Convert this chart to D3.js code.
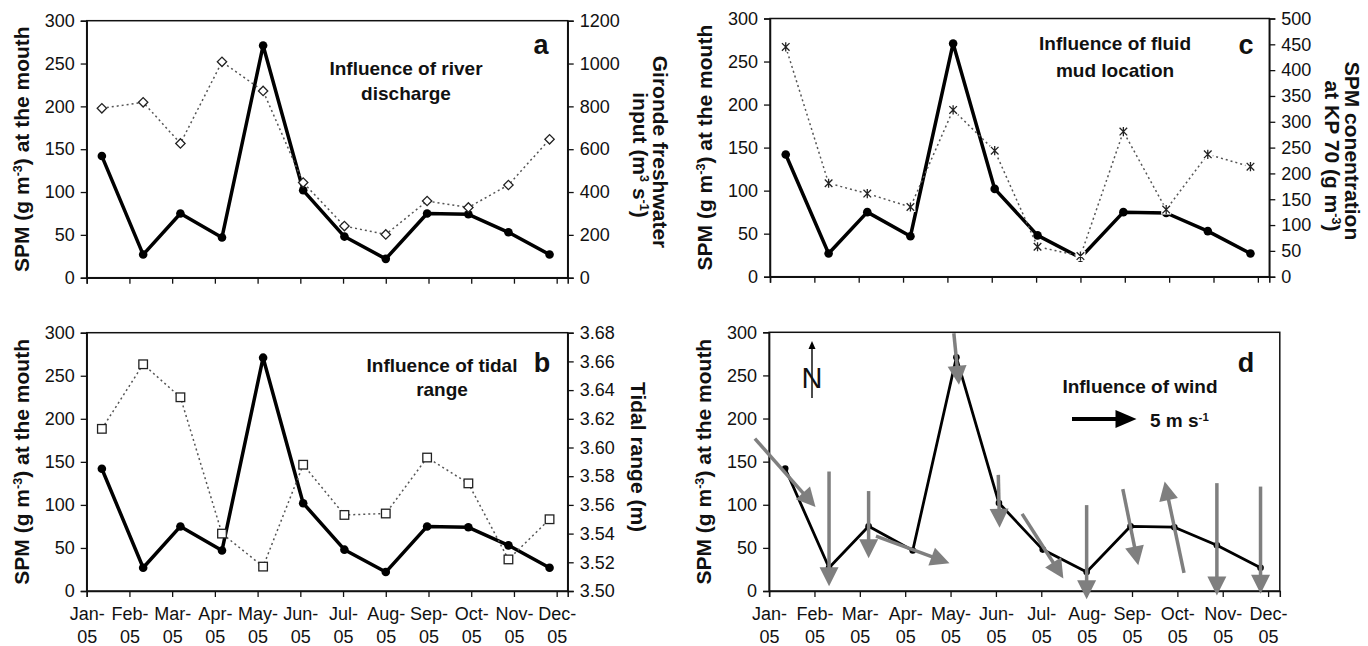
<!DOCTYPE html>
<html>
<head>
<meta charset="utf-8">
<script src="https://cdn.jsdelivr.net/npm/d3@7"></script>
<style>
  body { margin: 0; background: #fff; }
  svg { display: block; }
</style>
</head>
<body>
<svg id="chart" width="1368" height="646"></svg>
<script>
// ---- data ----
const monthLabels = ["Jan-", "Feb-", "Mar-", "Apr-", "May-", "Jun-", "Jul-", "Aug-", "Sep-", "Oct-", "Nov-", "Dec-"];
const yearLabel = "05";
const axisEnd = "2005-12-09";
const sampleDates = [
  "2005-01-12", "2005-02-10", "2005-03-07", "2005-04-06", "2005-05-05", "2005-06-03",
  "2005-07-02", "2005-08-01", "2005-08-31", "2005-09-29", "2005-10-28", "2005-11-26",
];
const spm = [142, 27, 75, 47, 271, 102, 48, 22, 75, 74, 53, 27];
const freshwater = [791, 819, 627, 1008, 872, 444, 241, 202, 358, 328, 433, 646];
const tidalRange = [3.613, 3.658, 3.635, 3.54, 3.517, 3.588, 3.553, 3.554, 3.593, 3.575, 3.522, 3.55];
const spmKP70 = [445, 181, 161, 135, 323, 244, 58, 40, 281, 130, 237, 213];
// wind vectors (m/s, u east, v north) and the SPM level each arrow is centred on
const windU = [4.7, 0, 0, 5.7, 0.4, 0.1, 3.2, 0, 1.2, -1.5, 0, 0];
const windV = [-5.3, -8.9, -5.2, -2.1, -4.0, -4.1, -5.0, -7.3, -5.9, 7.1, -8.7, -8.3];
const windAt = [137, 72, 77, 48, 269, 104, 52, 45, 74, 74, 60, 59];

const spmTicks = [0, 50, 100, 150, 200, 250, 300];
const freshTicks = [0, 200, 400, 600, 800, 1000, 1200];
const tidalTicks = [3.5, 3.52, 3.54, 3.56, 3.58, 3.6, 3.62, 3.64, 3.66, 3.68];
const kpTicks = [0, 50, 100, 150, 200, 250, 300, 350, 400, 450, 500];

// ---- layout ----
const FONT = "'Liberation Sans', Arial, Helvetica, sans-serif";
const INK = "#111";
const boxes = {
  a: { x0: 86.7, x1: 567.7, y0: 20.7, y1: 277.7 },
  b: { x0: 86.7, x1: 567.7, y0: 332.7, y1: 591 },
  c: { x0: 770, x1: 1269.3, y0: 18.5, y1: 276.7 },
  d: { x0: 769.1, x1: 1279.8, y0: 332.3, y1: 591 },
};

const svg = d3.select("#chart").attr("font-family", FONT);
const parse = d3.timeParse("%Y-%m-%d");
const monthPos = (s) => {
  const t = parse(s);
  const m0 = d3.timeMonth.floor(t);
  const m1 = d3.timeMonth.offset(m0, 1);
  return t.getMonth() + (t - m0) / (m1 - m0);
};
const xPos = sampleDates.map(monthPos);
const xMax = monthPos(axisEnd);

function styleAxis(sel) {
  sel.attr("font-family", FONT).attr("font-size", 18);
  sel.select(".domain").attr("stroke", INK).attr("stroke-width", 1.5);
  sel.selectAll(".tick line").attr("stroke", INK).attr("stroke-width", 1.3);
  sel.selectAll(".tick text").attr("fill", INK);
}

function rich(sel, parts) {
  parts.forEach(([t, sup]) => {
    const ts = sel.append("tspan").text(t);
    if (sup) ts.attr("baseline-shift", "super").style("font-size", "60%");
  });
  return sel;
}

function makePanel(box, withLabels) {
  const g = svg.append("g");
  const x = d3.scaleLinear().domain([0, xMax]).range([box.x0, box.x1]);
  const y = d3.scaleLinear().domain([0, 300]).range([box.y1, box.y0]);

  g.append("rect")
    .attr("x", box.x0)
    .attr("y", box.y0)
    .attr("width", box.x1 - box.x0)
    .attr("height", box.y1 - box.y0)
    .attr("fill", "none")
    .attr("stroke", INK)
    .attr("stroke-width", 1.5);

  g.append("g")
    .attr("transform", `translate(${box.x0},0)`)
    .call(d3.axisLeft(y).tickValues(spmTicks).tickSize(6).tickPadding(6).tickFormat(d3.format("d")))
    .call(styleAxis);

  const xAxis = g
    .append("g")
    .attr("transform", `translate(0,${box.y1})`)
    .call(
      d3
        .axisBottom(x)
        .tickValues(d3.range(12))
        .tickSize(6)
        .tickPadding(10)
        .tickFormat((i) => (withLabels ? monthLabels[i] : "")),
    )
    .call(styleAxis);
  if (withLabels) {
    xAxis.selectAll(".tick text").append("tspan").attr("x", 0).attr("dy", "1.27em").text(yearLabel);
  }

  // left title
  const ty = (box.y0 + box.y1) / 2;
  rich(
    g
      .append("text")
      .attr("transform", `translate(${box.x0 - 65},${ty}) rotate(-90)`)
      .attr("text-anchor", "middle")
      .attr("dy", "0.35em")
      .attr("font-size", 21)
      .attr("font-weight", "bold")
      .attr("fill", INK),
    [["SPM (g m"], ["-3", true], [") at the mouth"]],
  );
  return { g, x, y, box };
}

function rightAxis(p, scale, ticks, fmt) {
  p.g.append("g")
    .attr("transform", `translate(${p.box.x1},0)`)
    .call(d3.axisRight(scale).tickValues(ticks).tickSize(6).tickPadding(6).tickFormat(fmt))
    .call(styleAxis);
}

function rightTitle(p, cx, cy, parts) {
  rich(
    p.g
      .append("text")
      .attr("transform", `translate(${cx},${cy}) rotate(90)`)
      .attr("text-anchor", "middle")
      .attr("dy", "0.35em")
      .attr("font-size", 21)
      .attr("font-weight", "bold")
      .attr("fill", INK),
    parts,
  );
}

function drawSpm(p, width, r) {
  const line = d3
    .line()
    .x((d, i) => p.x(xPos[i]))
    .y((d) => p.y(d));
  p.g.append("path")
    .datum(spm)
    .attr("d", line)
    .attr("fill", "none")
    .attr("stroke", "#000")
    .attr("stroke-width", width)
    .attr("stroke-linejoin", "round");
  p.g.append("g")
    .selectAll("circle")
    .data(spm)
    .join("circle")
    .attr("cx", (d, i) => p.x(xPos[i]))
    .attr("cy", (d) => p.y(d))
    .attr("r", r)
    .attr("fill", "#000");
}

function drawDotted(p, scale, values) {
  const line = d3
    .line()
    .x((d, i) => p.x(xPos[i]))
    .y((d) => scale(d));
  p.g.append("path")
    .datum(values)
    .attr("d", line)
    .attr("fill", "none")
    .attr("stroke", "#555")
    .attr("stroke-width", 1.5)
    .attr("stroke-dasharray", "2,3");
  return p.g
    .append("g")
    .selectAll("g")
    .data(values)
    .join("g")
    .attr("transform", (d, i) => `translate(${p.x(xPos[i])},${scale(d)})`);
}

function annotate(p, cx, lines, letter) {
  lines.forEach(([t, y]) => {
    p.g.append("text")
      .attr("x", cx)
      .attr("y", y)
      .attr("text-anchor", "middle")
      .attr("font-size", 19)
      .attr("font-weight", "bold")
      .attr("fill", INK)
      .text(t);
  });
  p.g.append("text")
    .attr("x", letter[1])
    .attr("y", letter[2])
    .attr("text-anchor", "middle")
    .attr("font-size", 27)
    .attr("font-weight", "bold")
    .attr("fill", INK)
    .text(letter[0]);
}

// ---- panel a: river discharge ----
const pa = makePanel(boxes.a, false);
const yFresh = d3.scaleLinear().domain([0, 1200]).range([boxes.a.y1, boxes.a.y0]);
rightAxis(pa, yFresh, freshTicks, d3.format("d"));
rightTitle(pa, 660, 152, [["Gironde freshwater"]]);
rightTitle(pa, 640, 155, [["input (m"], ["3", true], [" s"], ["-1", true], [")"]]);
drawSpm(pa, 3.5, 4.3);
drawDotted(pa, yFresh, freshwater)
  .append("rect")
  .attr("x", -3.3)
  .attr("y", -3.3)
  .attr("width", 6.6)
  .attr("height", 6.6)
  .attr("transform", "rotate(45)")
  .attr("fill", "#fff")
  .attr("stroke", "#222")
  .attr("stroke-width", 1.3);
annotate(pa, 406, [["Influence of river", 75], ["discharge", 100]], ["a", 541, 54]);

// ---- panel b: tidal range ----
const pb = makePanel(boxes.b, true);
const yTide = d3.scaleLinear().domain([3.5, 3.68]).range([boxes.b.y1, boxes.b.y0]);
rightAxis(pb, yTide, tidalTicks, d3.format(".2f"));
rightTitle(pb, 638, 457, [["Tidal range (m)"]]);
drawSpm(pb, 3.5, 4.3);
drawDotted(pb, yTide, tidalRange)
  .append("rect")
  .attr("x", -4.3)
  .attr("y", -4.3)
  .attr("width", 8.6)
  .attr("height", 8.6)
  .attr("fill", "#fff")
  .attr("stroke", "#222")
  .attr("stroke-width", 1.3);
annotate(pb, 442, [["Influence of tidal", 372], ["range", 396]], ["b", 542, 372]);

// ---- panel c: fluid mud location ----
const pc = makePanel(boxes.c, false);
const yKP = d3.scaleLinear().domain([0, 500]).range([boxes.c.y1, boxes.c.y0]);
rightAxis(pc, yKP, kpTicks, d3.format("d"));
rightTitle(pc, 1352, 151, [["SPM conentration"]]);
rightTitle(pc, 1332, 156, [["at KP 70 (g m"], ["-3", true], [")"]]);
drawSpm(pc, 3.5, 4.3);
const star = drawDotted(pc, yKP, spmKP70);
star.append("rect").attr("x", -5).attr("y", -5).attr("width", 10).attr("height", 10).attr("fill", "#fff");
star.append("path")
  .attr("d", "M-3.8,-3.8L3.8,3.8M-3.8,3.8L3.8,-3.8M0,-4.6L0,4.6")
  .attr("stroke", "#222")
  .attr("stroke-width", 1.3);
annotate(pc, 1115, [["Influence of fluid", 50], ["mud location", 77]], ["c", 1246, 54]);

// ---- panel d: wind ----
const pd = makePanel(boxes.d, true);
drawSpm(pd, 2.8, 3.3);
annotate(pd, 1140, [["Influence of wind", 393]], ["d", 1246, 372]);

const windLen = d3.scaleLinear().domain([0, 5]).range([0, 64.5]);

function arrow(g, x1, y1, x2, y2, color, width, headLen, headHalf) {
  const len = Math.hypot(x2 - x1, y2 - y1);
  const ux = (x2 - x1) / len;
  const uy = (y2 - y1) / len;
  const bx = x2 - ux * headLen;
  const by = y2 - uy * headLen;
  g.append("line")
    .attr("x1", x1)
    .attr("y1", y1)
    .attr("x2", x2 - ux * headLen * 0.7)
    .attr("y2", y2 - uy * headLen * 0.7)
    .attr("stroke", color)
    .attr("stroke-width", width);
  g.append("path")
    .attr("d", d3.line()([
      [x2, y2],
      [bx - uy * headHalf, by + ux * headHalf],
      [bx + uy * headHalf, by - ux * headHalf],
    ]) + "Z")
    .attr("fill", color);
}

const windG = pd.g.append("g");
d3.range(12).forEach((i) => {
  const cx = pd.x(xPos[i]);
  const cy = pd.y(windAt[i]);
  const dx = windLen(windU[i]);
  const dy = -windLen(windV[i]);
  arrow(windG, cx - dx / 2, cy - dy / 2, cx + dx / 2, cy + dy / 2, "#7f7f7f", 3.5, 19, 9.5);
});

// scale arrow
arrow(pd.g, 1072, 419, 1072 + windLen(5), 419, "#000", 4, 21, 9);
rich(
  pd.g.append("text")
    .attr("x", 1150)
    .attr("y", 427)
    .attr("font-size", 19)
    .attr("font-weight", "bold")
    .attr("fill", INK),
  [["5 m s"], ["-1", true]],
);

// north sign
arrow(pd.g, 812, 398, 812, 341, "#000", 1.4, 8, 3.5);
pd.g.append("text")
  .attr("x", 812)
  .attr("y", 378)
  .attr("dy", "0.35em")
  .attr("text-anchor", "middle")
  .attr("font-size", 29)
  .attr("fill", INK)
  .text("N");
</script>
</body>
</html>
